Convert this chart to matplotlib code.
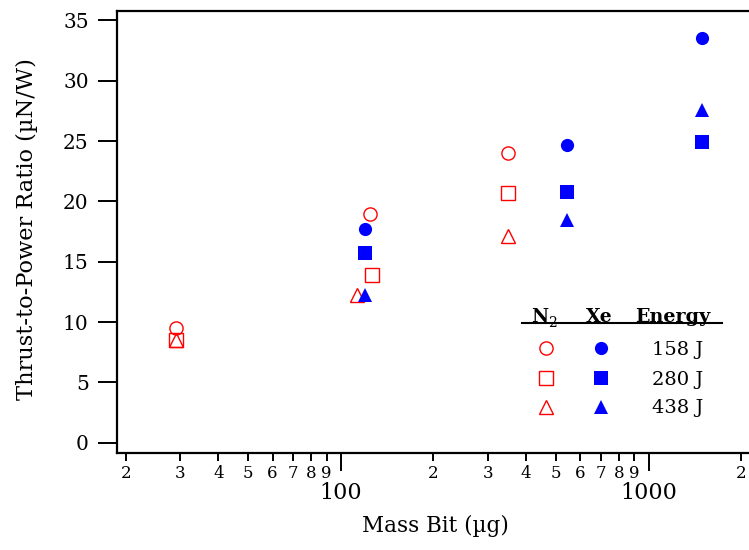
import numpy as np
import matplotlib
matplotlib.use("Agg")
import matplotlib.pyplot as plt
from matplotlib import ticker
from matplotlib.lines import Line2D

plt.rcParams['font.family'] = ['DejaVu Serif']

# thrust-to-power ratio (uN/W) vs mass bit (ug), one series per propellant/energy
n2_mass_158 = [29.2, 124.5, 349]
n2_ttp_158 = [9.5, 18.95, 24.0]
n2_mass_280 = [29.2, 126.4, 349]
n2_ttp_280 = [8.55, 13.9, 20.7]
n2_mass_438 = [29.2, 112.7, 349]
n2_ttp_438 = [8.55, 12.25, 17.1]

xe_mass_158 = [120.2, 545, 1489]
xe_ttp_158 = [17.7, 24.7, 33.55]
xe_mass_280 = [120.2, 545, 1489]
xe_ttp_280 = [15.7, 20.75, 24.95]
xe_mass_438 = [120.2, 545, 1489]
xe_ttp_438 = [12.25, 18.45, 27.6]

energies = ['158 J', '280 J', '438 J']
markers = ['o', 's', '^']

W, H = 749, 550
RED = '#ff0000'
BLUE = '#0000ff'
MS = 9.5


def px(x, y):
    # pixel position -> figure fraction
    return x / W, 1 - y / H


fig = plt.figure(figsize=(W / 100, H / 100), dpi=100)
x0, y0 = 116.7, 453.3
ax = fig.add_axes([x0 / W, 1 - y0 / H, (W - x0) / W, (y0 - 11) / H])

n2_sets = [(n2_mass_158, n2_ttp_158), (n2_mass_280, n2_ttp_280), (n2_mass_438, n2_ttp_438)]
xe_sets = [(xe_mass_158, xe_ttp_158), (xe_mass_280, xe_ttp_280), (xe_mass_438, xe_ttp_438)]

for (mx, my), m in zip(n2_sets, markers):
    ax.plot(mx, my, ls='none', marker=m, ms=MS, mfc='none', mec=RED, mew=1.0)
for (mx, my), m in zip(xe_sets, markers):
    ax.plot(mx, my, ls='none', marker=m, ms=MS, mfc=BLUE, mec=BLUE, mew=0)

ax.set_xscale('log')
ax.set_xlim(18.7, 2121)
ax.set_ylim(-0.88, 35.78)
ax.set_yticks(np.arange(0, 36, 5))

ax.xaxis.set_major_locator(ticker.LogLocator(base=10, subs=(1.0,)))
ax.xaxis.set_major_formatter(ticker.FuncFormatter(lambda v, _: f"{v:g}"))
ax.xaxis.set_minor_locator(ticker.LogLocator(base=10, subs=np.arange(2, 10), numticks=20))
ax.xaxis.set_minor_formatter(ticker.FuncFormatter(
    lambda v, _: f"{int(round(v / 10 ** np.floor(np.log10(v))))}"))

ax.spines['right'].set_visible(False)
for s in ['left', 'bottom', 'top']:
    ax.spines[s].set_linewidth(1.6)

ax.tick_params(axis='y', which='major', direction='out', length=13.7, width=1.4,
               pad=6.5, labelsize=14.5, right=False)
ax.tick_params(axis='x', which='major', direction='out', length=13.3, width=1.4,
               pad=7.5, labelsize=16, top=False)
ax.tick_params(axis='x', which='minor', direction='out', length=5.8, width=1.4,
               pad=2.8, labelsize=12, top=False)

ax.set_xlabel('Mass Bit (µg)', fontsize=15.5)
ax.xaxis.set_label_coords(0.504, -0.14)
ax.set_ylabel('Thrust-to-Power Ratio (µN/W)', fontsize=16.2)
ax.yaxis.set_label_coords(-0.125, 0.507)

# key: N2 / Xe columns with energy labels
fig.text(*px(548, 321.7), 'N', fontsize=13.5, fontweight='bold', ha='right', va='baseline')
fig.text(*px(548.5, 327), '2', fontsize=10, ha='left', va='baseline')
fig.text(*px(599, 321.7), 'Xe', fontsize=13.5, fontweight='bold', ha='center', va='baseline')
fig.text(*px(673, 321.7), 'Energy', fontsize=13.8, fontweight='bold', ha='center', va='baseline')
lx, ly = zip(px(521.7, 323.3), px(721.7, 323.3))
fig.add_artist(Line2D(lx, ly, color='black', lw=1.5, transform=fig.transFigure))

row_y = [348.3, 378.3, 406.7]
text_y = [355, 385, 413.3]
for m, ry, ty, lab in zip(markers, row_y, text_y, energies):
    fig.add_artist(Line2D(*zip(px(546, ry)), ls='none', marker=m, ms=MS, mfc='none',
                          mec=RED, mew=1.0, transform=fig.transFigure))
    fig.add_artist(Line2D(*zip(px(601, ry)), ls='none', marker=m, ms=MS, mfc=BLUE,
                          mec=BLUE, mew=0, transform=fig.transFigure))
    fig.text(*px(651.7, ty), lab, fontsize=14, ha='left', va='baseline')

fig.savefig('out.png', dpi=100)
